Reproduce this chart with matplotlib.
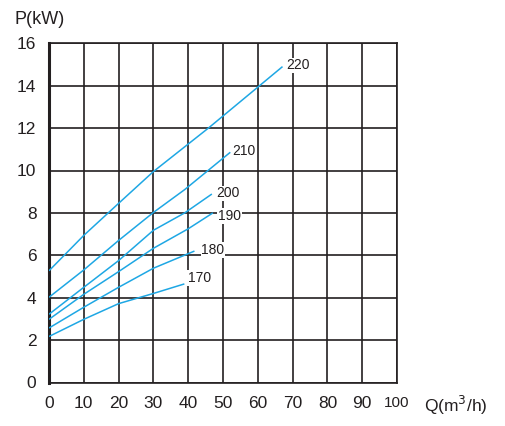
import numpy as np
import matplotlib.pyplot as plt

# Curvas de potencia P(kW) frente a caudal Q(m3/h) para cada diámetro de rodete
q_puntos = [0, 10, 20, 30]
p_220 = [5.27, 6.94, 8.45, 9.95]
p_210 = [4.02, 5.31, 6.70, 8.02]
p_200 = [3.22, 4.49, 5.75, 7.18]
p_190 = [2.98, 4.16, 5.23, 6.33]
p_180 = [2.57, 3.55, 4.49, 5.39]
p_170 = [2.17, 2.98, 3.72, 4.20]

# puntos finales de cada curva (Q, P)
q_fin = {'220': [45.8, 60.5, 67.1], '210': [39.0, 52.1], '200': [39.0, 46.8], '190': [40.0, 47.1],
         '180': [41.8], '170': [38.9]}
p_fin = {'220': [12.0, 14.0, 14.9], '210': [9.1, 10.86], '200': [8.0, 8.89], '190': [7.25, 8.0],
         '180': [6.2], '170': [4.65]}

curvas = {'220': p_220, '210': p_210, '200': p_200, '190': p_190, '180': p_180, '170': p_170}

# posición de las etiquetas
etiquetas_q = {'220': 71.6, '210': 55.9, '200': 51.3, '190': 51.9, '180': 47.1, '170': 43.3}
etiquetas_p = {'220': 14.96, '210': 10.9, '200': 8.92, '190': 7.86, '180': 6.25, '170': 4.94}

x_ticks = [0, 10, 20, 30, 40, 50, 60, 70, 80, 90, 100]
y_ticks = [0, 2, 4, 6, 8, 10, 12, 14, 16]

plt.rcParams['font.family'] = ['Liberation Sans', 'DejaVu Sans']

fig = plt.figure(figsize=(5.06, 4.26), dpi=100)
ax = fig.add_axes([49 / 506, 1 - 382.5 / 426, 348 / 506, 339.2 / 426])

color_linea = '#1ea7e4'
color_rejilla = '#231f20'

for nombre, valores in curvas.items():
    q = q_puntos + q_fin[nombre]
    p = valores + p_fin[nombre]
    ax.plot(q, p, color=color_linea, lw=1.1, zorder=3, solid_capstyle='butt')
    ax.text(etiquetas_q[nombre], etiquetas_p[nombre], nombre, fontsize=10, ha='center', va='center',
            color='#231f20', zorder=4,
            bbox=dict(facecolor='white', edgecolor='none', pad=0.6))

ax.set_xlim(0, 100)
ax.set_ylim(0, 16)
ax.set_xticks(x_ticks)
ax.set_yticks(y_ticks)
ax.set_xticklabels([str(v) for v in x_ticks], fontsize=12.5)
ax.set_yticklabels([str(v) for v in y_ticks], fontsize=12.5)
ax.get_xticklabels()[-1].set_fontsize(11)
ax.tick_params(length=0, colors='#231f20')
ax.tick_params(axis='x', pad=10)
ax.tick_params(axis='y', pad=9)
ax.grid(True, color=color_rejilla, lw=1.2)
ax.set_axisbelow(True)
for lado in ['top', 'right', 'bottom']:
    ax.spines[lado].set_linewidth(1.2)
    ax.spines[lado].set_color(color_rejilla)
ax.spines['left'].set_linewidth(2.2)
ax.spines['left'].set_color(color_rejilla)

fig.text(39.5 / 506, 1 - 20 / 426, 'P(kW)', fontsize=13, ha='center', va='center', color='#231f20')
fig.text(456 / 506, 1 - 405 / 426, 'Q(m$^3$/h)', fontsize=12.5, ha='center', va='center', color='#231f20')

fig.savefig('out.png', dpi=100)
